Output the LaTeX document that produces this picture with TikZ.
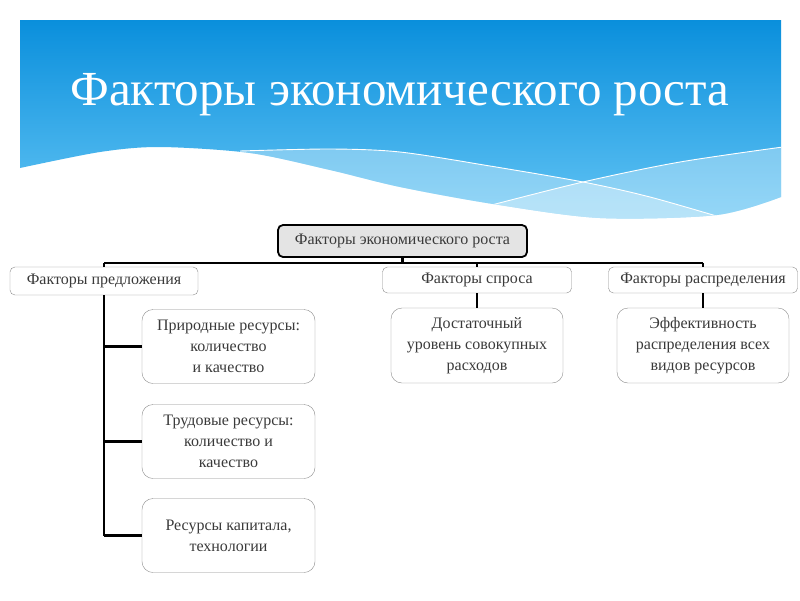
\documentclass[tikz,border=0pt]{standalone}
\usepackage{fontspec}
\setmainfont{Liberation Serif}
\usetikzlibrary{positioning}
\definecolor{bannertop}{HTML}{0A8FDC}
\definecolor{bannerbottom}{HTML}{62C4F4}
\definecolor{boxline}{HTML}{8C8C8C}
\definecolor{boxtext}{HTML}{3A3A3A}
\definecolor{rootfill}{HTML}{E4E4E4}
\tikzset{%
	every factor/.style={
		draw=boxline,
		fill=white,
		rounded corners=5pt,
		text=boxtext,
		font=\fontsize{16}{20}\selectfont,
		inner sep=0pt,
		align=center
	},
	factor root/.style={
		draw=black,
		line width=1.8pt,
		fill=rootfill
	},
	every item/.style={
		draw=boxline,
		fill=white,
		rounded corners=11pt,
		text=boxtext,
		font=\fontsize{16}{21}\selectfont,
		inner sep=0pt,
		align=center
	},
	link/.style={
		line width=2.4pt,
		black
	},
}

\begin{document}
\begin{tikzpicture}[x=1pt, y=-1pt]
		\useasboundingbox [fill=white] (0,0) rectangle (800,600);
		
		% banner
		\path [top color=bannertop, bottom color=bannerbottom]
		(20,20) -- (781,20) -- (781,197)
		-- plot [smooth] coordinates {(781,197) (717,215) (600,218) (493,204) (400,187) (330,170) (250,153) (160,147) (100,152) (20,168)}
		-- cycle;
		\begin{scope}
		\clip (20,20) -- (781,20) -- (781,197)
		-- plot [smooth] coordinates {(781,197) (717,215) (600,218) (493,204) (400,187) (330,170) (250,153) (160,147) (100,152) (20,168)}
		-- cycle;
		\fill [white, opacity=0.33] plot [smooth] coordinates {(240,151) (330,149) (400,152) (490,166) (583,182) (650,197) (730,220)}
		-- (730,240) -- (240,240) -- cycle;
		\fill [white, opacity=0.33] plot [smooth] coordinates {(480,208) (583,182) (680,162) (790,146)}
		-- (790,240) -- (480,240) -- cycle;
		\draw [white, line width=0.9pt] plot [smooth] coordinates {(240,151) (330,149) (400,152) (490,166) (583,182) (650,197) (730,220)};
		\draw [white, line width=0.9pt] plot [smooth] coordinates {(480,208) (583,182) (680,162) (790,146)};
		\end{scope}
		
		\node [text=white, font=\fontsize{49}{52}\selectfont, anchor=base] (title) at (400,105) {Факторы экономического роста};
		
		% factors
		\node [every factor/.try, factor root/.try, minimum width=249, minimum height=32] (root) at (402.5,241) {Факторы экономического роста};
		\node [every factor/.try, minimum width=188, minimum height=28] (supply) at (104,281) {Факторы предложения};
		\node [every factor/.try, minimum width=189, minimum height=26] (demand) at (477,280) {Факторы спроса};
		\node [every factor/.try, minimum width=189, minimum height=26] (distrib) at (703,280) {Факторы распределения};
		
		% items
		\foreach \n/\y/\t in {nat/346.5/{Природные ресурсы:\\количество\\и качество},
			lab/441.5/{Трудовые ресурсы:\\количество и\\качество},
			cap/535.5/{Ресурсы капитала,\\технологии}}
		\node [every item/.try, minimum width=173, minimum height=74] (\n) at (228.5,\y) {\t};
		
		\node [every item/.try, minimum width=172, minimum height=75] (suff) at (477,345.5) {Достаточный\\уровень совокупных\\расходов};
		\node [every item/.try, minimum width=172, minimum height=75] (eff) at (703,345.5) {Эффективность\\распределения всех\\видов ресурсов};
		
		% links
		\draw [link] (root.south) -- ++(0,5) coordinate (bus);
		\draw [link] (supply.north |- bus) -- (distrib.north |- bus);
		\foreach \f in {supply, demand, distrib}
		\draw [link] (\f.north |- bus) -- (\f.north);
		\draw [link] (supply.south) -- (supply.south |- cap.west);
		\foreach \n in {nat, lab, cap}
		\draw [link] (supply.south |- \n.west) -- (\n.west);
		\draw [link] (demand.south) -- (suff.north);
		\draw [link] (distrib.south) -- (eff.north);
		
\end{tikzpicture}
\end{document}
